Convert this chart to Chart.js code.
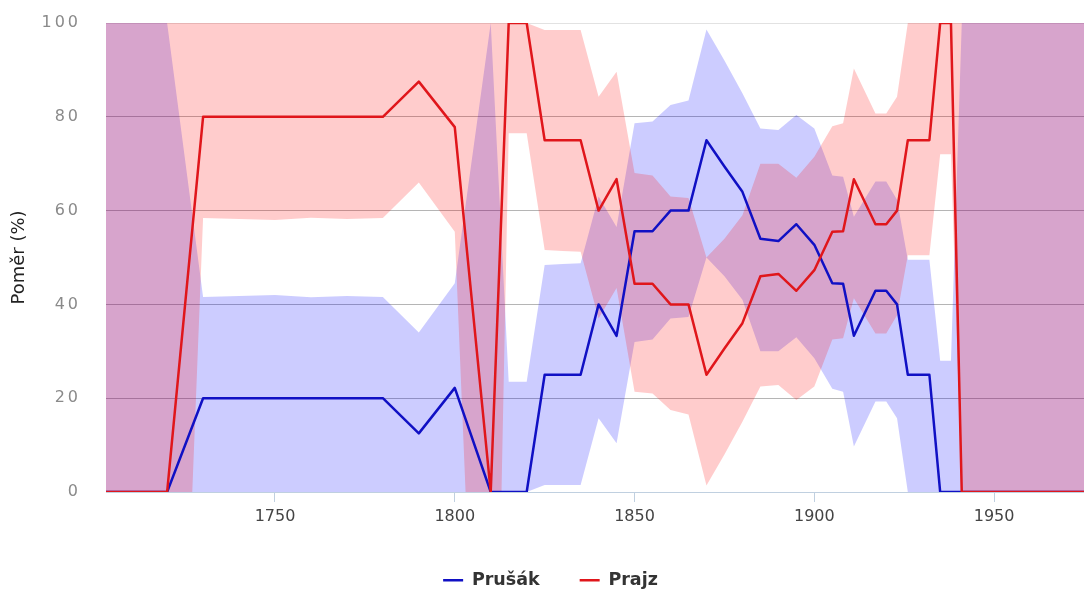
<!DOCTYPE html>
<html lang="cs">
<head>
<meta charset="utf-8">
<title>Prušák a Prajz</title>
<script src="https://cdn.jsdelivr.net/npm/chart.js@4.4.1/dist/chart.umd.min.js"></script>
<style>
  html, body { margin: 0; padding: 0; background: #ffffff; }
  #wrap { width: 1084px; height: 591px; }
</style>
</head>
<body>
<div id="wrap"><canvas id="chart" width="1084" height="591"></canvas></div>
<script>
// Years at which the two word forms were counted
const years = [1703, 1720, 1730, 1740, 1750, 1760, 1770, 1780, 1790, 1800, 1810, 1815, 1820,
  1825, 1830, 1835, 1840, 1845, 1850, 1855, 1860, 1865, 1870, 1875, 1880, 1885, 1890, 1895,
  1900, 1905, 1908, 1911, 1917, 1920, 1923, 1926, 1929, 1932, 1935, 1938, 1941, 1975];

// Share of each form (%)
const prusakShare = [0, 0, 20, 20, 20, 20, 20, 20, 12.5, 22.2, 0, 0, 0,
  25, 25, 25, 40, 33.3, 55.6, 55.6, 60, 60, 75, 69.4, 64, 54, 53.5, 57.1,
  52.7, 44.5, 44.4, 33.3, 42.9, 42.9, 40, 25, 25, 25, 0, 0, 0, 0];
const prajzShare = [0, 0, 80, 80, 80, 80, 80, 80, 87.5, 77.8, 0, 100, 100,
  75, 75, 75, 60, 66.7, 44.4, 44.4, 40, 40, 25, 30.6, 36, 46, 46.5, 42.9,
  47.3, 55.5, 55.6, 66.7, 57.1, 57.1, 60, 75, 75, 75, 100, 100, 0, 0];

// Confidence band of Prušák
const prusakBandYears = years;
const prusakBandLow = [0, 0, 0, 0, 0, 0, 0, 0, 0, 0, 0, 0, 0,
  1.5, 1.5, 1.5, 15.7, 10.4, 32, 32.5, 37, 37.3, 50, 46, 41, 30, 30, 33,
  28.5, 22, 21.4, 9.7, 19.3, 19.3, 15.7, 0, 0, 0, 0, 0, 0, 0];
const prusakBandHigh = [100, 100, 41.6, 41.8, 42, 41.5, 41.8, 41.6, 34, 44.5, 100, 23.5, 23.5,
  48.4, 48.6, 48.8, 63, 56.5, 78.6, 79, 82.5, 83.5, 98.6, 92, 85, 77.5, 77.2, 80.4,
  77.5, 67.5, 67.2, 58.7, 66.2, 66.2, 62.3, 49.5, 49.5, 49.5, 28, 28, 100, 100];

// Confidence band of Prajz
const prajzBandYears = [1703, 1720, 1727, 1730, 1740, 1750, 1760, 1770, 1780, 1790, 1800, 1803,
  1810, 1813, 1815, 1820, 1825, 1830, 1835, 1840, 1845, 1850, 1855, 1860, 1865, 1870, 1875,
  1880, 1885, 1890, 1895, 1900, 1905, 1908, 1911, 1917, 1920, 1923, 1926, 1929, 1932, 1935,
  1938, 1941, 1975];
const prajzBandLow = [0, 0, 0, 58.4, 58.2, 58, 58.5, 58.2, 58.4, 66, 55.5, 0,
  0, 0, 76.5, 76.5, 51.6, 51.4, 51.2, 37, 43.5, 21.4, 21, 17.5, 16.5, 1.4, 8,
  15, 22.5, 22.8, 19.6, 22.5, 32.5, 32.8, 41.3, 33.8, 33.8, 37.7, 50.5, 50.5, 50.5, 72,
  72, 0, 0];
const prajzBandHigh = [100, 100, 100, 100, 100, 100, 100, 100, 100, 100, 100, 100,
  100, 100, 100, 100, 98.5, 98.5, 98.5, 84.3, 89.6, 68, 67.5, 63, 62.7, 50, 54,
  59, 70, 70, 67, 71.5, 78, 78.6, 90.3, 80.7, 80.7, 84.3, 100, 100, 100, 100,
  100, 100, 100];

// Axis ticks
const xTickValues = [1750, 1800, 1850, 1900, 1950];
const yTickValues = [0, 20, 40, 60, 80, 100];

const BLUE = '#1010c4';
const RED = '#e0161b';

const toPoints = (xs, ys) => xs.map((x, i) => ({ x: x, y: ys[i] }));

Chart.defaults.font.family = "'DejaVu Sans', sans-serif";

const bandStyle = { borderWidth: 0, pointRadius: 0, pointHoverRadius: 0, tension: 0 };

// The value labels of the percentage axis are drawn with wider letter spacing
const spacedAxisLabels = {
  id: 'spacedAxisLabels',
  beforeDraw(chart) {
    const scale = chart.scales.y;
    if (!scale || scale.$spaced) return;
    const original = scale.drawLabels.bind(scale);
    scale.drawLabels = function (area) {
      const ctx = this.ctx;
      const previous = ctx.letterSpacing;
      ctx.letterSpacing = '3px';
      original(area);
      ctx.letterSpacing = previous || '0px';
    };
    scale.$spaced = true;
  }
};

new Chart(document.getElementById('chart'), {
  type: 'line',
  data: {
    datasets: [
      { label: 'Prušák', data: toPoints(years, prusakShare), borderColor: BLUE, backgroundColor: BLUE,
        borderWidth: 2.5, pointRadius: 0, fill: false, tension: 0, order: 1,
        borderJoinStyle: 'round', borderCapStyle: 'round' },
      { label: 'Prajz', data: toPoints(years, prajzShare), borderColor: RED, backgroundColor: RED,
        borderWidth: 2.5, pointRadius: 0, fill: false, tension: 0, order: 0,
        borderJoinStyle: 'round', borderCapStyle: 'round' },
      Object.assign({ label: 'prajz-low', data: toPoints(prajzBandYears, prajzBandLow), fill: false, order: 3 }, bandStyle),
      Object.assign({ label: 'prajz-high', data: toPoints(prajzBandYears, prajzBandHigh),
        fill: { target: 2 }, backgroundColor: 'rgba(255, 0, 0, 0.2)', order: 2 }, bandStyle),
      Object.assign({ label: 'prusak-low', data: toPoints(prusakBandYears, prusakBandLow), fill: false, order: 5 }, bandStyle),
      Object.assign({ label: 'prusak-high', data: toPoints(prusakBandYears, prusakBandHigh),
        fill: { target: 4 }, backgroundColor: 'rgba(0, 0, 255, 0.2)', order: 4 }, bandStyle)
    ]
  },
  plugins: [spacedAxisLabels],
  options: {
    responsive: false,
    animation: false,
    devicePixelRatio: 1,
    events: [],
    layout: { padding: { left: 17, right: 0, top: 23, bottom: -8 } },
    plugins: {
      tooltip: { enabled: false },
      legend: {
        position: 'bottom',
        labels: {
          filter: (item) => item.datasetIndex < 2,
          sort: (a, b) => a.datasetIndex - b.datasetIndex,
          usePointStyle: true,
          pointStyle: 'line',
          pointStyleWidth: 20,
          padding: 40,
          color: '#333333',
          font: { size: 17.5, weight: 'bold' }
        }
      }
    },
    scales: {
      x: {
        type: 'linear',
        min: 1703,
        max: 1975,
        afterBuildTicks: (scale) => { scale.ticks = xTickValues.map(v => ({ value: v })); },
        afterFit: (scale) => { scale.height = 39.5; },
        grid: { display: true, drawOnChartArea: false, drawTicks: true, tickLength: 10, color: '#c0d0e0' },
        border: { display: true, color: '#c0d0e0', width: 1 },
        ticks: { padding: 5, color: '#444444', font: { size: 16 }, maxRotation: 0, autoSkip: false,
          callback: (v) => String(v) }
      },
      y: {
        min: 0,
        max: 100,
        afterBuildTicks: (scale) => { scale.ticks = yTickValues.map(v => ({ value: v })); },
        afterFit: (scale) => { scale.width = 89; },
        grid: {
          drawTicks: true,
          tickLength: 25,
          tickColor: 'rgba(0, 0, 0, 0)',
          color: (ctx) => {
            const v = ctx.tick ? ctx.tick.value : null;
            if (v === 100) return '#e2e2e2';
            if (v === 0) return '#c0d0e0';
            return 'rgba(90, 90, 90, 0.45)';
          }
        },
        border: { display: false },
        ticks: { padding: 0, color: '#8a8a8a', font: { size: 16 } },
        title: { display: true, text: 'Poměr (%)', color: '#222222', font: { size: 18 },
          padding: { top: -8, bottom: 0 } }
      }
    }
  }
});
</script>
</body>
</html>
